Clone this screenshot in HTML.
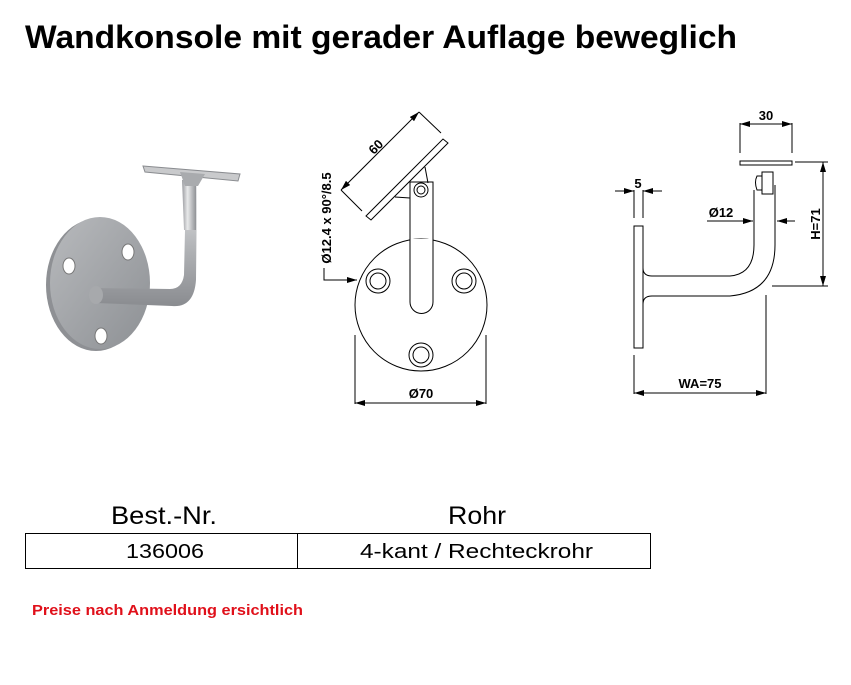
<!DOCTYPE html>
<html><head><meta charset="utf-8"><style>
html,body{margin:0;padding:0;background:#fff;width:851px;height:685px;overflow:hidden;font-family:"Liberation Sans",Arial,sans-serif}
</style></head><body>
<svg width="851" height="685" viewBox="0 0 851 685" xmlns="http://www.w3.org/2000/svg" font-family="Liberation Sans, Arial, sans-serif">
<defs>
<marker id="a" viewBox="0 0 10 6" refX="10" refY="3" markerWidth="10" markerHeight="6" orient="auto-start-reverse" markerUnits="userSpaceOnUse"><path d="M0,0 L10,3 L0,6 z" fill="#000"/></marker>
<linearGradient id="g1" x1="0" y1="0" x2="1" y2="1"><stop offset="0" stop-color="#b8babd"/><stop offset="1" stop-color="#8d9094"/></linearGradient>
<linearGradient id="g2" x1="0" y1="0" x2="0" y2="1"><stop offset="0" stop-color="#e6e7e9"/><stop offset="0.5" stop-color="#b3b5b8"/><stop offset="1" stop-color="#8a8c90"/></linearGradient>
<linearGradient id="g3" x1="0" y1="0" x2="1" y2="0"><stop offset="0" stop-color="#9a9ca0"/><stop offset="0.4" stop-color="#e8e9ea"/><stop offset="1" stop-color="#909296"/></linearGradient>
</defs>
<text x="25" y="48" font-size="32" font-weight="bold" textLength="712" lengthAdjust="spacingAndGlyphs">Wandkonsole mit gerader Auflage beweglich</text>

<!-- photo -->
<ellipse cx="96" cy="285" rx="50" ry="66" fill="#8e9094"/>
<ellipse cx="100" cy="283" rx="50" ry="66" fill="url(#g1)"/>
<ellipse cx="69" cy="266" rx="6" ry="8" fill="#fff" stroke="#777"/>
<ellipse cx="128" cy="252" rx="6" ry="8" fill="#fff" stroke="#777"/>
<ellipse cx="101" cy="336" rx="6" ry="8" fill="#fff" stroke="#777"/>
<path d="M95,288 L170,289 Q182,289 184,275 L186,185 L197,185 L196,280 Q194,308 172,306 L96,303 z" fill="url(#g2)"/>
<ellipse cx="96" cy="295" rx="7" ry="9" fill="#a7a9ac"/>
<path d="M182,180 L196,180 L196,230 L184,230 z" fill="url(#g3)"/>
<path d="M143,166 L240,174 L238,181 L145,172 z" fill="#c9cacc" stroke="#8a8c90"/>
<path d="M180,172 L205,174 L198,186 L185,186 z" fill="#a9abae"/>

<!-- middle drawing -->
<g stroke="#000" fill="none" stroke-width="1">
<circle cx="421" cy="305" r="66"/>
<circle cx="378" cy="281" r="12"/><circle cx="378" cy="281" r="8"/>
<circle cx="464" cy="281" r="12"/><circle cx="464" cy="281" r="8"/>
<circle cx="421" cy="355" r="12"/><circle cx="421" cy="355" r="8"/>
<path d="M410,239 L410,182 L433,182 L433,239" />
<path d="M410,239 L410,302 A11.5,11.5 0 0 0 433,302 L433,239" fill="#fff"/>
<circle cx="421" cy="190" r="7"/><circle cx="421" cy="190" r="4"/>
<path d="M395,197 L410,198 M425,167 L428,183"/>
<path d="M366,216 L443,139 L448,143 L371,220 z" fill="#fff"/>
<line x1="341" y1="190" x2="419" y2="112" marker-start="url(#a)" marker-end="url(#a)"/>
<path d="M341,190 L362,211 M419,112 L441,133"/>
<path d="M324,268 L324,280 L357,280" marker-end="url(#a)"/>
<path d="M355,335 L355,404 M486,335 L486,404"/>
<line x1="355" y1="403" x2="486" y2="403" marker-start="url(#a)" marker-end="url(#a)"/>
</g>
<text x="0" y="0" font-size="13" font-weight="bold" transform="translate(379,150) rotate(-45)" text-anchor="middle">60</text>
<text x="0" y="0" font-size="13" font-weight="bold" transform="translate(331,218) rotate(-90)" text-anchor="middle">Ø12.4 x 90°/8.5</text>
<text x="421" y="398" font-size="13" font-weight="bold" text-anchor="middle">Ø70</text>

<!-- right drawing -->
<g stroke="#000" fill="none" stroke-width="1">
<rect x="740" y="161" width="52" height="4" fill="#fff"/>
<path d="M740,123 L740,153 M792,123 L792,153"/>
<line x1="740" y1="124" x2="792" y2="124" marker-start="url(#a)" marker-end="url(#a)"/>
<rect x="634" y="226" width="9" height="122" fill="#fff"/>
<path d="M634,190 L634,218 M643,190 L643,218"/>
<path d="M615,191 L634,191" marker-end="url(#a)"/><path d="M662,191 L643,191" marker-end="url(#a)"/>
<path d="M643,268 Q643,276 652,276 L730,276 Q754,274 754,245 L754,190"/>
<path d="M643,304 Q643,296 652,296 L730,296 Q775,292 775,245 L775,185"/>
<rect x="762" y="172" width="11" height="22" fill="#fff"/>
<path d="M757,176 Q754,182 757,190 L762,190 L762,176 z" fill="#fff"/>
<path d="M707,221 L753,221" marker-end="url(#a)"/><path d="M795,221 L777,221" marker-end="url(#a)"/>
<path d="M795,162 L828,162 M772,286 L828,286"/>
<line x1="823" y1="162" x2="823" y2="286" marker-start="url(#a)" marker-end="url(#a)"/>
<path d="M634,355 L634,394 M766,295 L766,394"/>
<line x1="634" y1="393" x2="766" y2="393" marker-start="url(#a)" marker-end="url(#a)"/>
</g>
<text x="766" y="120" font-size="13" font-weight="bold" text-anchor="middle">30</text>
<text x="638" y="188" font-size="13" font-weight="bold" text-anchor="middle">5</text>
<text x="721" y="217" font-size="13" font-weight="bold" text-anchor="middle">Ø12</text>
<text x="0" y="0" font-size="13" font-weight="bold" transform="translate(820,224) rotate(-90)" text-anchor="middle">H=71</text>
<text x="700" y="388" font-size="13" font-weight="bold" text-anchor="middle">WA=75</text>

<!-- table -->
<text x="111" y="524" font-size="25" textLength="106" lengthAdjust="spacingAndGlyphs">Best.-Nr.</text>
<text x="448" y="524" font-size="25" textLength="58" lengthAdjust="spacingAndGlyphs">Rohr</text>
<rect x="25.5" y="533.5" width="625" height="35" fill="none" stroke="#000"/>
<line x1="297.5" y1="533" x2="297.5" y2="569" stroke="#000"/>
<text x="126" y="558" font-size="20" textLength="78" lengthAdjust="spacingAndGlyphs">136006</text>
<text x="360" y="558" font-size="20" textLength="233" lengthAdjust="spacingAndGlyphs">4-kant / Rechteckrohr</text>
<text x="32" y="615" font-size="15" font-weight="bold" fill="#e0101a" textLength="271" lengthAdjust="spacingAndGlyphs">Preise nach Anmeldung ersichtlich</text>
</svg>
</body></html>
